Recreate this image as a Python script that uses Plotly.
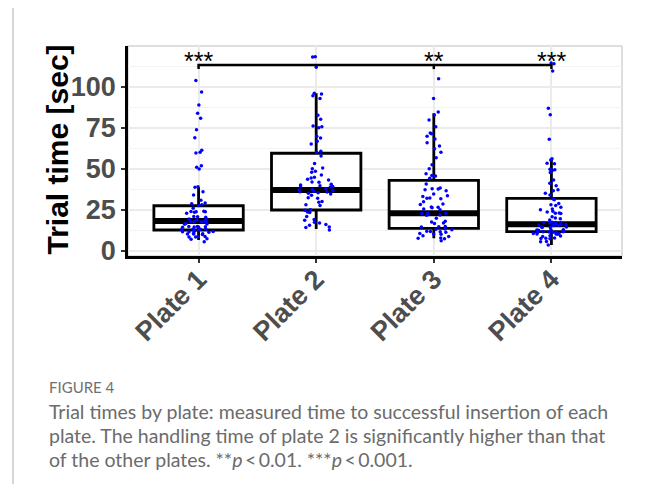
import plotly.graph_objects as go

# ---------------- data ----------------
plates = ["Plate 1", "Plate 2", "Plate 3", "Plate 4"]

plate1_times = [104, 97, 89, 84, 81, 74, 69, 61.5, 60.2, 59.8, 52, 51, 50, 39.2, 38.8, 36.2, 34.1,
                31, 29.2, 28.8, 28.2, 27.8, 26, 24.3, 24.1, 24, 23.9, 23.7, 23, 21.1, 20.9, 20.6,
                19.5, 19.3, 19.1, 18.1, 18, 17.9, 17.8, 17.6, 16.7, 16.5, 16.3, 15, 14.9, 14.8,
                14.7, 14.6, 14.5, 13.4, 13.3, 13.2, 13.1, 13, 12.9, 12, 11.9, 11.8, 11.7, 11.5,
                10.6, 10.5, 10.4, 10.3, 10.1, 8.9, 8.8, 8.6, 8.5, 7.4, 7.2, 5.7]
plate2_times = [118.5, 118.3, 112, 96.2, 95.8, 94.7, 93, 82.7, 80.3, 76.2, 75.8, 75.2, 70, 68.9,
                66.9, 65.2, 60.8, 60.2, 57.9, 53.4, 50.6, 50.2, 48.6, 48, 46.3, 45, 44.5, 43.7,
                43.3, 42, 41.9, 40.7, 40.2, 39.8, 39.6, 39.4, 39, 38, 37.5, 37.2, 36.9, 36.5,
                36.2, 35.9, 35.5, 35.2, 34.8, 34, 32.5, 32.1, 30.2, 29.8, 28.2, 27.8, 25.2, 24.8,
                23.8, 23.4, 21, 19.2, 18.8, 17.5, 17.1, 16.1, 15.7, 14.7, 14.3, 12.8]
plate3_times = [105, 93, 84.8, 83, 79.9, 75.8, 71.9, 71.5, 69.9, 68.3, 66, 64, 62.4, 60.2, 56.9,
                52.6, 50.2, 47.1, 46.1, 45.7, 44.3, 40.9, 38.4, 38, 37.8, 37.4, 36.8, 34.8, 33.7,
                33.3, 32.3, 32.1, 31.9, 30, 28.7, 28.3, 26.8, 26.6, 26.4, 25.6, 25.2, 23.2, 23,
                22.8, 22.2, 22, 21.8, 19.9, 18.1, 17.7, 17.1, 16.7, 15, 14.8, 14.6, 13.4, 13.2,
                13, 12.1, 11.9, 11.7, 11.5, 10.6, 10.4, 10.2, 9.3, 8.9, 7.9, 7.7, 7.5, 6.3]
plate4_times = [114.6, 114.2, 109.8, 87, 83.1, 68.1, 56.3, 55.5, 53.5, 53.2, 49.8, 49.6, 49.2,
                47.8, 43.3, 41.3, 39.8, 37.4, 36.8, 35.2, 34.1, 31.7, 31.3, 29, 28.2, 27.8, 26.6,
                25.6, 25.2, 24.2, 23.8, 23.2, 23, 22.8, 20.9, 20.1, 19.7, 18.9, 17.5, 17.4, 17.3,
                17.2, 17.1, 16.1, 16, 15.9, 15.8, 15.7, 15.6, 14.7, 14.6, 14.4, 14.3, 13, 12.9,
                12.8, 12.7, 12.6, 11.8, 11.7, 11.6, 11.5, 11.4, 11.3, 10.6, 10.5, 10.4, 10.3,
                10.2, 9.3, 9.1, 8.9, 7.9, 7.8, 7.6, 7.5, 5.8, 5.6, 3.7]

q1_vals = [12.8, 25.0, 13.8, 11.8]
median_vals = [18.3, 37.2, 23.0, 16.3]
q3_vals = [27.6, 59.6, 43.1, 32.1]
lower_whiskers = [6.7, 13.4, 7.7, 3.7]
upper_whiskers = [38.8, 96.2, 84.0, 55.9]

bracket_level = 113.4
bracket_foot = 110.9
sig_plates = ["Plate 1", "Plate 3", "Plate 4"]
sig_labels = ["***", "**", "***"]

y_tick_vals = [0, 25, 50, 75, 100]
y_minor_vals = [12.5, 37.5, 62.5, 87.5, 112.5]

caption_head = "FIGURE 4"
caption_lines = [
    "Trial times by plate: measured time to successful insertion of each",
    "plate. The handling time of plate 2 is significantly higher than that",
    "of the other plates. **<i>p</i>&#8201;&lt;&#8201;0.01. ***<i>p</i>&#8201;&lt;&#8201;0.001.",
]

# ---------------- layout geometry ----------------
# the page body adds an 8px margin, so the figure is drawn 8px in from the window corner
OFF = 8
W, H = 654 - 2 * OFF, 492 - 2 * OFF
L, T = 128 - OFF, 46 - OFF
PW, PH = 494, 210
R, B = W - L - PW, H - T - PH


def px_x(p):
    return (p - OFF - L) / PW


def px_y(p):
    return (T + PH - (p - OFF)) / PH


fig = go.Figure()

# box outlines from summary stats
fig.add_trace(go.Box(
    x=plates, q1=q1_vals, median=median_vals, q3=q3_vals,
    lowerfence=lower_whiskers, upperfence=upper_whiskers,
    width=0.76, whiskerwidth=0, fillcolor="white",
    line=dict(color="black", width=2.8), boxpoints=False, hoverinfo="skip",
))
# thick median bar
fig.add_trace(go.Box(
    x=plates, q1=median_vals, median=median_vals, q3=median_vals,
    lowerfence=median_vals, upperfence=median_vals,
    width=0.76, whiskerwidth=0, fillcolor="black",
    line=dict(color="black", width=6), boxpoints=False, hoverinfo="skip",
))
# jittered raw points
all_x, all_y = [], []
for name, vals in zip(plates, [plate1_times, plate2_times, plate3_times, plate4_times]):
    all_x += [name] * len(vals)
    all_y += vals
fig.add_trace(go.Box(
    x=all_x, y=all_y, boxpoints="all", jitter=0.44, pointpos=0, width=0.76,
    fillcolor="rgba(0,0,0,0)", line=dict(color="rgba(0,0,0,0)", width=0),
    marker=dict(color="#0000ff", size=3.5, line=dict(width=0)),
))
# significance bracket
bx, by = [], []
bx += [plates[0], plates[0], plates[3], plates[3], None]
by += [bracket_foot, bracket_level, bracket_level, bracket_foot, None]
bx += [plates[2], plates[2]]
by += [bracket_level, bracket_foot]
fig.add_trace(go.Scatter(x=bx, y=by, mode="lines", line=dict(color="black", width=2.5),
                         hoverinfo="skip"))

annotations = []
for p, s in zip(sig_plates, sig_labels):
    annotations.append(dict(x=p, y=bracket_level, xref="x", yref="y", text=s, showarrow=False,
                            xanchor="center", yanchor="bottom", yshift=-12,
                            font=dict(family="Liberation Sans, Arial", size=25, color="black")))

annotations.append(dict(x=px_x(57), y=px_y(149.5), xref="paper", yref="paper",
                        text="Trial time [sec]", textangle=-90, showarrow=False,
                        xanchor="center", yanchor="middle",
                        font=dict(family="Liberation Sans, Arial", size=30, color="black",
                                  weight="bold")))

annotations.append(dict(x=px_x(47), y=px_y(387), xref="paper", yref="paper", text=caption_head,
                        showarrow=False, xanchor="left", yanchor="middle",
                        font=dict(family="Lato", size=15, color="#707070")))
for i, line in enumerate(caption_lines):
    annotations.append(dict(x=px_x(47), y=px_y(411 + 24 * i), xref="paper", yref="paper",
                            text=line, showarrow=False, xanchor="left", yanchor="middle",
                            font=dict(family="Lato", size=19.5, color="#6b6b6b")))

shapes = [
    dict(type="rect", xref="paper", yref="paper", x0=0, x1=1, y0=0, y1=1,
         line=dict(color="#d4d4d4", width=1.5), layer="below"),
    dict(type="line", xref="paper", yref="paper", x0=px_x(13), x1=px_x(13),
         y0=px_y(0), y1=px_y(492), line=dict(color="#c8c8c8", width=1.5)),
]

fig.update_layout(
    width=W, height=H, margin=dict(l=L, r=R, t=T, b=B, autoexpand=False),
    paper_bgcolor="white", plot_bgcolor="white", boxmode="overlay", showlegend=False,
    annotations=annotations, shapes=shapes,
)
fig.update_xaxes(
    type="category", categoryorder="array", categoryarray=plates, range=[-0.6, 3.6],
    showgrid=True, gridcolor="#ebebeb", gridwidth=1.5, zeroline=False,
    showline=True, linecolor="black", linewidth=2.5,
    ticks="outside", ticklen=4, tickcolor="#333333", tickwidth=1.5, tickangle=-45,
    ticklabelstandoff=-10,
    tickfont=dict(family="Liberation Sans, Arial", size=27, color="#4d4d4d", weight="bold"),
)
fig.update_yaxes(
    range=[-3.05, 125], tickmode="array", tickvals=y_tick_vals,
    showgrid=True, gridcolor="#ebebeb", gridwidth=1.5, zeroline=False,
    minor=dict(tickmode="array", tickvals=y_minor_vals, showgrid=True, gridcolor="#f3f3f3",
               gridwidth=1, ticks=""),
    showline=True, linecolor="black", linewidth=2.5,
    ticks="outside", ticklen=4, tickcolor="#333333", tickwidth=1.5,
    tickfont=dict(family="Liberation Sans, Arial", size=27, color="#4d4d4d", weight="bold"),
)

fig.write_html("out.html")
